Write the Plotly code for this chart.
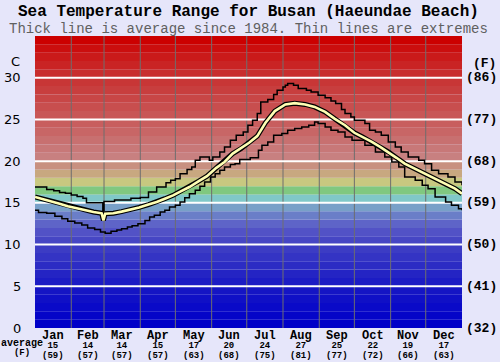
import plotly.graph_objects as go

# ---------------- data ----------------
months = ["Jan", "Feb", "Mar", "Apr", "May", "Jun", "Jul", "Aug", "Sep", "Oct", "Nov", "Dec"]
month_avg_c = ["15", "14", "14", "15", "17", "20", "24", "27", "25", "22", "19", "17"]
month_avg_f = ["(59)", "(57)", "(57)", "(57)", "(63)", "(68)", "(75)", "(81)", "(77)", "(72)", "(66)", "(63)"]
month_days = [31, 28, 31, 30, 31, 30, 31, 31, 30, 31, 30, 31]

c_ticks = [0, 5, 10, 15, 20, 25, 30]
c_labels = ["0", "5", "10", "15", "20", "25", "30"]
f_labels = ["(32)", "(41)", "(50)", "(59)", "(68)", "(77)", "(86)"]

avg_days = [0, 7, 14, 21, 28, 35, 42, 50, 57, 58.5, 60, 67, 74, 81, 89, 97, 104, 111, 118, 125,
            132, 140, 147, 155, 162, 169, 176, 183, 190, 197, 205, 214, 222, 231, 239, 248, 256,
            265, 273, 280, 288, 295, 302, 309, 316, 323, 330, 337, 345, 352, 359, 365]
avg_vals = [15.7, 15.45, 15.15, 14.9, 14.6, 14.35, 14.1, 13.9, 13.75, 12.9, 13.7, 13.75, 13.95, 14.15,
            14.45, 14.8, 15.1, 15.5, 15.9, 16.4, 16.9, 17.6, 18.2, 19.2, 19.9, 20.9, 21.5, 22.2, 23.0,
            24.6, 26.0, 26.8, 26.95, 26.8, 26.5, 25.9, 25.1, 24.3, 23.4, 22.9, 22.3, 21.7, 21.1, 20.4,
            19.7, 19.2, 18.7, 18.2, 17.7, 17.2, 16.7, 16.1]

max_days = [0, 10, 16, 21, 26, 31, 36, 41, 44, 58, 59, 68, 82, 90, 97, 104, 112, 116, 120, 124, 130,
            134, 137, 141, 149, 152, 158, 162, 167, 172, 178, 182, 186, 190, 193, 199, 204, 207, 212,
            214, 216, 221, 225, 232, 236, 242, 248, 253, 257, 262, 265, 270, 273, 282, 286, 291, 296,
            302, 308, 313, 319, 328, 333, 339, 345, 353, 359, 365]
max_vals = [16.9, 16.6, 16.45, 16.25, 16.15, 15.95, 15.75, 15.55, 15.0, 14.1, 15.15, 15.35, 15.55,
            15.65, 16.3, 16.9, 17.4, 17.7, 17.9, 18.5, 19.0, 19.3, 20.1, 20.5, 20.1, 20.5, 21.1, 21.7,
            22.5, 23.1, 23.5, 24.3, 24.9, 25.7, 27.1, 27.4, 28.0, 28.5, 28.9, 29.1, 29.3, 29.1, 28.7,
            28.5, 28.3, 27.9, 27.6, 27.2, 26.9, 26.2, 25.7, 25.3, 24.9, 24.5, 23.7, 23.5, 23.1, 22.3,
            21.7, 21.1, 20.5, 20.1, 19.7, 18.9, 18.5, 18.1, 17.5, 17.1]

min_days = [0, 3, 10, 17, 23, 28, 34, 40, 45, 51, 56, 60, 65, 70, 74, 79, 83, 88, 94, 98, 102, 107,
            111, 115, 120, 124, 128, 132, 137, 141, 145, 150, 154, 158, 162, 167, 171, 175, 184, 191,
            194, 199, 204, 211, 216, 222, 228, 234, 239, 242, 248, 253, 259, 265, 271, 276, 282, 291,
            299, 305, 311, 316, 325, 331, 336, 342, 351, 356, 362, 365]
min_vals = [14.1, 13.85, 13.75, 13.4, 13.1, 12.8, 12.6, 12.35, 12.0, 11.8, 11.5, 11.35, 11.6, 11.75,
            11.9, 12.1, 12.25, 12.5, 12.9, 13.3, 13.5, 13.9, 14.1, 14.5, 14.7, 15.1, 15.6, 16.1, 16.5,
            17.0, 17.5, 18.1, 18.5, 18.9, 19.3, 19.6, 19.7, 20.2, 20.4, 21.3, 21.9, 22.3, 23.1, 23.3,
            23.7, 23.9, 24.1, 24.3, 24.7, 24.5, 24.1, 23.7, 23.5, 22.9, 22.5, 22.5, 21.9, 21.1, 20.5,
            19.9, 19.3, 18.1, 17.7, 17.1, 16.7, 15.7, 15.1, 14.7, 14.3, 14.1]

# one colour per 1 degC band, 0..35
band_colors = ["#0000c8", "#0505c8", "#0a0ac8", "#1010c6", "#1515c4", "#1c1cc4", "#2424c4", "#2c2cc4",
               "#3434c4", "#3c3cc4", "#4646c4", "#5252c6", "#5e64c8", "#6a7ec8", "#78a0c8", "#80c8c8",
               "#80c880", "#c8c880", "#c8a880", "#c89080", "#c88080", "#c87878", "#c87070", "#c86666",
               "#c85e5e", "#c85656", "#c84e4e", "#c84646", "#c83e3e", "#c83636", "#c82e2e", "#c92424",
               "#ca1a1a", "#cb0e0e", "#cc0000"]

BG = "#e6e6fa"
YMAX = 35
XMAX = 365

fig = go.Figure()

shapes = []
for i, col in enumerate(band_colors):
    shapes.append(dict(type="rect", xref="x", yref="y", x0=0, x1=XMAX, y0=i, y1=i + 1,
                       fillcolor=col, line=dict(width=0), layer="below"))
cum = 0
for d in month_days[:-1]:
    cum += d
    shapes.append(dict(type="line", xref="x", yref="y", x0=cum, x1=cum, y0=0, y1=YMAX,
                       line=dict(color="#6e6e6e", width=1), layer="below"))
for t in c_ticks[1:]:
    shapes.append(dict(type="line", xref="x", yref="y", x0=0, x1=XMAX, y0=t, y1=t,
                       line=dict(color="#ffffff", width=2), layer="below"))

fig.add_trace(go.Scatter(x=max_days, y=max_vals, mode="lines", line_shape="hv",
                         line=dict(color="#000000", width=1.5), hoverinfo="skip"))
fig.add_trace(go.Scatter(x=min_days, y=min_vals, mode="lines", line_shape="hv",
                         line=dict(color="#000000", width=1.5), hoverinfo="skip"))
fig.add_trace(go.Scatter(x=avg_days, y=avg_vals, mode="lines",
                         line=dict(color="#000000", width=5), hoverinfo="skip"))
fig.add_trace(go.Scatter(x=avg_days, y=avg_vals, mode="lines",
                         line=dict(color="#ffffb4", width=2.6), hoverinfo="skip"))

ann = []
ann.append(dict(text="<b>Sea Temperature Range for Busan (Haeundae Beach)</b>", xref="paper", yref="paper",
                x=0.5, y=1, xanchor="center", yanchor="middle", yshift=24, showarrow=False, borderpad=0,
                font=dict(family="Liberation Mono", size=16, color="#000000")))
ann.append(dict(text="Thick line is average since 1984. Thin lines are extremes", xref="paper", yref="paper",
                x=0.5, y=1, xanchor="center", yanchor="middle", yshift=7, showarrow=False, borderpad=0,
                font=dict(family="Liberation Mono", size=14, color="#606060")))

lab_font = dict(family="DejaVu Sans", size=13, color="#000000")
for t, lab in zip(c_ticks, c_labels):
    ann.append(dict(text=lab, xref="paper", yref="y", x=0, y=t, xanchor="right", yanchor="middle",
                    xshift=-12, showarrow=False, font=lab_font))
ann.append(dict(text="C", xref="paper", yref="paper", x=0, y=1, xanchor="right", yanchor="middle",
                xshift=-13, yshift=-25, showarrow=False, font=lab_font))

rf = dict(family="Liberation Mono", size=13, color="#000000")
for t, lab in zip(c_ticks, f_labels):
    ann.append(dict(text="<b>" + lab + "</b>", xref="paper", yref="y", x=1, y=t, xanchor="left",
                    yanchor="middle", xshift=2, showarrow=False, font=rf))
ann.append(dict(text="<b>(F)</b>", xref="paper", yref="paper", x=1, y=1, xanchor="left", yanchor="middle",
                xshift=9, yshift=-27, showarrow=False, font=rf))

# bottom labels: one three-line block per month (line spacing = 1.3 x base size)
base = dict(family="Liberation Mono", size=7.3, color="#000000")
cum = 0
for m, c, f, d in zip(months, month_avg_c, month_avg_f, month_days):
    mid = cum + d / 2
    cum += d
    txt = ("<b><span style='font-size:12px'>" + m + "</span></b><br>"
           "<b><span style='font-size:9px'>" + c + "</span></b><br>"
           "<b><span style='font-size:9px'>" + f + "</span></b>")
    ann.append(dict(text=txt, xref="x", yref="paper", x=mid, y=0, xanchor="center", align="center",
                    yanchor="top", yshift=0, showarrow=False, font=base, borderpad=0))
ann.append(dict(text="<b><span style='font-size:10px'>average</span></b><br>"
                     "<b><span style='font-size:9px'>(F)</span></b>",
                xref="paper", yref="paper", x=0, y=0, xanchor="right", align="center",
                yanchor="top", xshift=9, yshift=-9, showarrow=False, font=base, borderpad=0))

fig.update_layout(
    width=500, height=362,
    margin=dict(l=35, r=38, t=36, b=34, pad=0),
    paper_bgcolor=BG, plot_bgcolor=BG,
    showlegend=False,
    shapes=shapes, annotations=ann,
    xaxis=dict(range=[0, XMAX], showgrid=False, zeroline=False, showticklabels=False, ticks="",
               fixedrange=True),
    yaxis=dict(range=[0, YMAX], showgrid=False, zeroline=False, showticklabels=False, ticks="",
               fixedrange=True),
)

fig.write_html("out.html", config={"displayModeBar": False},
               post_script="document.body.style.margin='0';document.body.style.background='" + BG + "';")
